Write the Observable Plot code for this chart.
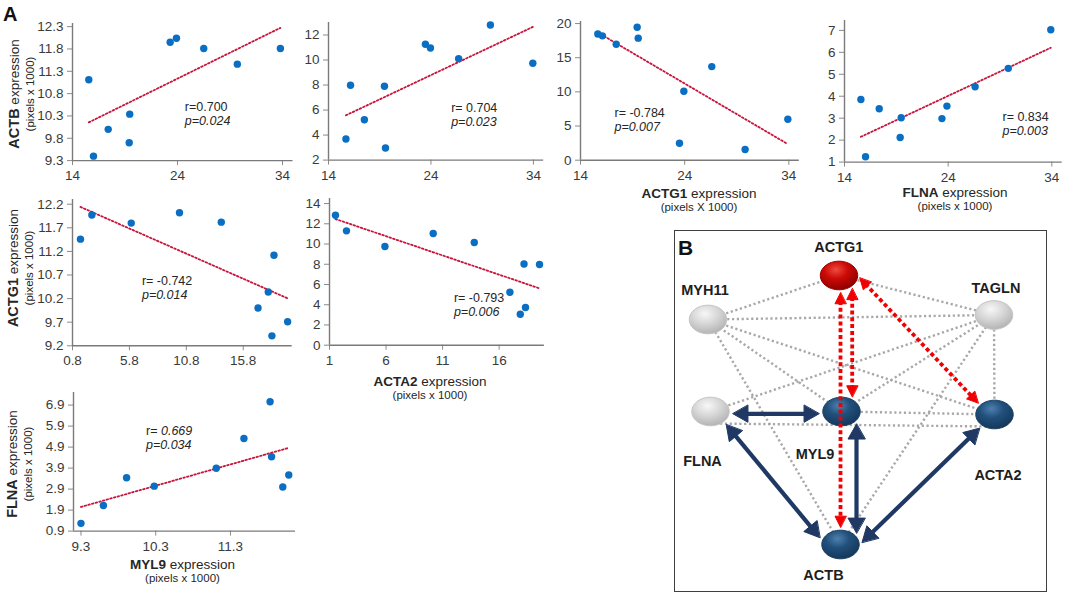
<!DOCTYPE html>
<html>
<head>
<meta charset="utf-8">
<script src="https://cdn.jsdelivr.net/npm/d3@7"></script>
<script src="https://cdn.jsdelivr.net/npm/@observablehq/plot@0.6"></script>
<style>
html,body{margin:0;padding:0;background:#fff;}
#fig{position:relative;width:1065px;height:594px;overflow:hidden;background:#fff;font-family:"Liberation Sans",Arial,Helvetica,sans-serif;color:#262626;}
#fig svg{overflow:visible;}
</style>
</head>
<body>
<div id="fig"></div>
<script>
// ---------------- data ----------------
const p1X = [15.55, 16.0, 17.4, 19.4, 19.45, 23.3, 23.9, 26.5, 29.7, 33.8];
const p1Y = [11.11, 9.40, 10.0, 9.70, 10.34, 11.95, 12.04, 11.81, 11.46, 11.81];
const p2X = [15.7, 16.15, 17.5, 19.46, 19.56, 23.46, 23.95, 26.7, 29.8, 33.94];
const p2Y = [3.68, 7.98, 5.22, 7.9, 2.96, 11.26, 10.96, 10.11, 12.8, 9.74];
const p3X = [15.66, 16.1, 17.43, 19.44, 19.54, 23.5, 23.92, 26.6, 29.8, 33.9];
const p3Y = [18.48, 18.2, 16.97, 19.46, 17.86, 2.49, 10.1, 13.7, 1.56, 6.0];
const p4X = [15.58, 16.03, 17.35, 19.37, 19.47, 23.4, 23.88, 26.6, 29.8, 33.9];
const p4Y = [3.85, 1.24, 3.43, 2.12, 3.02, 2.98, 3.55, 4.43, 5.27, 7.03];
const p5X = [1.5, 2.5, 5.96, 10.2, 13.87, 17.1, 18.0, 18.32, 18.5, 19.7];
const p5Y = [11.46, 11.97, 11.8, 12.02, 11.82, 10.0, 10.34, 9.41, 11.12, 9.71];
const p6X = [1.53, 2.5, 5.9, 10.17, 13.8, 16.95, 17.87, 18.2, 18.33, 19.57];
const p6Y = [12.84, 11.3, 9.75, 11.04, 10.15, 5.23, 3.06, 8.03, 3.72, 7.97];
const p7X = [9.3, 9.6, 9.91, 10.28, 11.11, 11.48, 11.83, 11.85, 12.0, 12.08];
const p7Y = [1.27, 2.12, 3.44, 3.04, 3.89, 5.31, 7.06, 4.44, 3.0, 3.57];

const rLabels = ["r=0.700", "r= 0.704", "r= -0.784", "r= 0.834", "r= -0.742", "r= -0.793", "r= "];
const rItalicPart = [null, null, null, null, null, null, "0.669"];
const pLabels = ["p=0.024", "p=0.023", "p=0.007", "p=0.003", "p=0.014", "p=0.006", "p=0.034"];

// tick labels
const row1XTicks = [14, 24, 34];
const p1YTicks = [9.3, 9.8, 10.3, 10.8, 11.3, 11.8, 12.3];
const p2YTicks = [2, 4, 6, 8, 10, 12];
const p3YTicks = [0, 5, 10, 15, 20];
const p4YTicks = [1, 2, 3, 4, 5, 6, 7];
const p5XTicks = [0.8, 5.8, 10.8, 15.8];
const p5YTicks = [9.2, 9.7, 10.2, 10.7, 11.2, 11.7, 12.2];
const p6XTicks = [1, 6, 11, 16];
const p6YTicks = [0, 2, 4, 6, 8, 10, 12, 14];
const p7XTicks = [9.3, 10.3, 11.3];
const p7YTicks = [0.9, 1.9, 2.9, 3.9, 4.9, 5.9, 6.9];

// network
const nodeNames = ["ACTG1", "MYH11", "TAGLN", "FLNA", "MYL9", "ACTA2", "ACTB"];
const nodeKinds = ["red", "gray", "gray", "gray", "blue", "blue", "blue"];
const grayEdges = [["MYH11","ACTG1"],["ACTG1","TAGLN"],["MYH11","TAGLN"],["MYH11","MYL9"],["MYH11","ACTA2"],["MYH11","ACTB"],
  ["TAGLN","FLNA"],["TAGLN","MYL9"],["TAGLN","ACTB"],["TAGLN","ACTA2"],["FLNA","ACTA2"],["MYL9","ACTA2"]];
const redEdges = [["ACTG1","ACTB"],["ACTG1","MYL9"],["ACTG1","ACTA2"]];
const blueEdges = [["FLNA","MYL9"],["FLNA","ACTB"],["MYL9","ACTB"],["ACTA2","ACTB"]];

// ---------------- layout ----------------
const FONT = '"Liberation Sans", Arial, Helvetica, sans-serif';
const fig = document.getElementById("fig");
const M = {l: 44, r: 10, t: 8, b: 28};

const panels = [
  {xs: p1X, ys: p1Y, xDomain: [14, 35], yDomain: [9.3, 12.37], xTicks: row1XTicks, yTicks: p1YTicks, xFmt: "d", yFmt: ".1f", ann: [24.7, 10.40], box: {x0: 72, x1: 292.5, top: 22.9, bottom: 160}},
  {xs: p2X, ys: p2Y, xDomain: [14, 35], yDomain: [2, 13], xTicks: row1XTicks, yTicks: p2YTicks, xFmt: "d", yFmt: "d", ann: [25.97, 5.85], box: {x0: 328.3, x1: 543.5, top: 21.7, bottom: 159.3}},
  {xs: p3X, ys: p3Y, xDomain: [14, 35], yDomain: [0, 20.3], xTicks: row1XTicks, yTicks: p3YTicks, xFmt: "d", yFmt: "d", ann: [17.26, 6.33], box: {x0: 580, x1: 798.8, top: 21.3, bottom: 160}},
  {xs: p4X, ys: p4Y, xDomain: [14, 35], yDomain: [1, 7.45], xTicks: row1XTicks, yTicks: p4YTicks, xFmt: "d", yFmt: "d", ann: [29.24, 2.87], box: {x0: 844.3, x1: 1062, top: 20.1, bottom: 161.7}},
  {xs: p5X, ys: p5Y, xDomain: [0.8, 20.1], yDomain: [9.2, 12.3], xTicks: p5XTicks, yTicks: p5YTicks, xFmt: ".1f", yFmt: ".1f", ann: [6.9, 10.49], box: {x0: 72.3, x1: 292, top: 198.7, bottom: 345}},
  {xs: p6X, ys: p6Y, xDomain: [1, 20], yDomain: [0, 14.5], xTicks: p6XTicks, yTicks: p6YTicks, xFmt: "d", yFmt: "d", ann: [12.0, 4.22], box: {x0: 329, x1: 543.9, top: 198.3, bottom: 345}},
  {xs: p7X, ys: p7Y, xDomain: [9.2, 12.17], yDomain: [0.9, 7.5], xTicks: p7XTicks, yTicks: p7YTicks, xFmt: ".1f", yFmt: ".1f", ann: [10.17, 5.47], box: {x0: 73, x1: 295, top: 392.4, bottom: 531}}
];

panels.forEach((p, i) => {
  const data = p.xs.map((x, j) => ({x, y: p.ys[j]}));
  const w = p.box.x1 - p.box.x0 + M.l + M.r;
  const h = p.box.bottom - p.box.top + M.t + M.b;
  const marks = [
    Plot.axisX({ticks: p.xTicks, tickFormat: d3.format(p.xFmt), tickSize: 5, tickPadding: 5, stroke: "#8a8a8a", fill: "#3a3a3a", fontSize: 13.5, label: null}),
    Plot.axisY({ticks: p.yTicks, tickFormat: d3.format(p.yFmt), tickSize: 5, tickPadding: 4, stroke: "#8a8a8a", fill: "#3a3a3a", fontSize: 13.5, label: null}),
    Plot.ruleY([p.yDomain[0]], {stroke: "#7a7a7a", strokeWidth: 1.4}),
    Plot.ruleX([p.xDomain[0]], {stroke: "#7a7a7a", strokeWidth: 1.4}),
    Plot.linearRegressionY(data, {x: "x", y: "y", ci: 0, stroke: "#c8143c", strokeWidth: 1.8, strokeDasharray: "1.6,2.2"}),
    Plot.dot(data, {x: "x", y: "y", r: 3.7, fill: "#0a6fc2"}),
    Plot.text([p.ann], {x: d => d[0], y: d => d[1], text: () => rLabels[i], textAnchor: "start", lineAnchor: "bottom", fontSize: 12.5, fill: "#262626"}),
    Plot.text([p.ann], {x: d => d[0], y: d => d[1], text: () => pLabels[i], textAnchor: "start", lineAnchor: "bottom", dy: 14, fontSize: 12.5, fontStyle: "italic", fill: "#262626"})
  ];
  if (rItalicPart[i]) {
    marks.push(Plot.text([p.ann], {x: d => d[0], y: d => d[1], text: () => rItalicPart[i], textAnchor: "start", lineAnchor: "bottom", dx: 15, fontSize: 12.5, fontStyle: "italic", fill: "#262626"}));
  }
  const chart = Plot.plot({
    width: w, height: h,
    marginLeft: M.l, marginRight: M.r, marginTop: M.t, marginBottom: M.b,
    style: {fontFamily: FONT, background: "transparent", overflow: "visible"},
    x: {domain: p.xDomain},
    y: {domain: p.yDomain},
    marks
  });
  chart.style.position = "absolute";
  chart.style.left = (p.box.x0 - M.l) + "px";
  chart.style.top = (p.box.top - M.t) + "px";
  chart.style.maxWidth = "none";
  fig.appendChild(chart);
});

// ---------------- axis titles (HTML text) ----------------
function yTitle(gene, cx, cy) {
  const d = document.createElement("div");
  d.style.cssText = `position:absolute;left:${cx}px;top:${cy}px;transform:translate(-50%,-50%) rotate(-90deg);text-align:center;white-space:nowrap;font-family:${FONT};color:#262626;`;
  d.innerHTML = `<div style="font-size:13.5px;line-height:16px"><b style="font-size:14.5px">${gene}</b> expression</div><div style="font-size:11.5px;line-height:14px">(pixels x 1000)</div>`;
  fig.appendChild(d);
}
function xTitle(gene, cx, top, unit) {
  const d = document.createElement("div");
  d.style.cssText = `position:absolute;left:${cx}px;top:${top}px;transform:translateX(-50%);text-align:center;white-space:nowrap;font-family:${FONT};color:#262626;`;
  d.innerHTML = `<div style="font-size:13.5px;line-height:14px"><b>${gene}</b> expression</div><div style="font-size:11.5px;line-height:12px">${unit}</div>`;
  fig.appendChild(d);
}
yTitle("ACTB", 20.5, 94);
yTitle("ACTG1", 20, 267.5);
yTitle("FLNA", 19, 463.7);
xTitle("ACTG1", 699, 186.8, "(pixels X 1000)");
xTitle("FLNA", 955, 185.8, "(pixels x 1000)");
xTitle("ACTA2", 430, 374.8, "(pixels x 1000)");
xTitle("MYL9", 182.5, 557.5, "(pixels x 1000)");

function letter(t, left, top, size) {
  const d = document.createElement("div");
  d.style.cssText = `position:absolute;left:${left}px;top:${top}px;font-family:${FONT};font-weight:bold;font-size:${size}px;line-height:${size}px;color:#111;`;
  d.textContent = t;
  fig.appendChild(d);
}
letter("A", 3, 4.4, 20);

// ---------------- panel B: network ----------------
const BOX = {left: 674, top: 230, w: 373, h: 362};
const border = document.createElement("div");
border.style.cssText = `position:absolute;left:${BOX.left}px;top:${BOX.top}px;width:${BOX.w}px;height:${BOX.h}px;border:1.6px solid #3f3f3f;box-sizing:border-box;`;
fig.appendChild(border);

const nodePos = {ACTG1: [164.5, 45], MYH11: [33.5, 89], TAGLN: [319.5, 84.5], FLNA: [36, 181], MYL9: [167, 181], ACTA2: [320, 184], ACTB: [166, 314]};
const labelPos = {ACTG1: [164.3, 21.5], MYH11: [30.5, 64], TAGLN: [321.5, 62.5], FLNA: [28, 235.5], MYL9: [140.5, 228.5], ACTA2: [323.5, 249], ACTB: [149, 349]};
const anchorOff = {
  "ACTG1-ACTB": [[1.5, 0], [0, 0]], "ACTG1-MYL9": [[13.2, 0], [10.7, 0]], "ACTG1-ACTA2": [[7.8, -11.2], [-2, 3.8]],
  "FLNA-MYL9": [[0, 2.3], [0, 2.3]], "FLNA-ACTB": [[5.4, 0.7], [-8.7, 7.6]], "MYL9-ACTB": [[15, 0], [16, 0]],
  "ACTA2-ACTB": [[-3.2, 2.2], [10.9, 8.2]], "FLNA-ACTA2": [[0, 12], [0, 12]]
};
const RX = 18.7, RY = 14.3;

function roots(P0, d, C) {
  const ox = P0[0] - C[0], oy = P0[1] - C[1];
  const a = (d[0] / RX) ** 2 + (d[1] / RY) ** 2;
  const b = 2 * (ox * d[0] / RX ** 2 + oy * d[1] / RY ** 2);
  const c = (ox / RX) ** 2 + (oy / RY) ** 2 - 1;
  const s = Math.sqrt(Math.max(0, b * b - 4 * a * c));
  return [(-b - s) / (2 * a), (-b + s) / (2 * a)];
}
function edgeGeom([a, b], gap, headLen, headW, key) {
  const off = anchorOff[a + "-" + b] || [[0, 0], [0, 0]];
  const A = nodePos[a], B = nodePos[b];
  const P0 = [A[0] + off[0][0], A[1] + off[0][1]];
  const P1 = [B[0] + off[1][0], B[1] + off[1][1]];
  const d = [P1[0] - P0[0], P1[1] - P0[1]];
  const len = Math.hypot(d[0], d[1]);
  const u = [d[0] / len, d[1] / len], n = [-u[1], u[0]];
  const t0 = roots(P0, d, A)[1] + gap / len;
  const t1 = roots(P0, d, B)[0] - gap / len;
  const T0 = [P0[0] + t0 * d[0], P0[1] + t0 * d[1]];
  const T1 = [P0[0] + t1 * d[0], P0[1] + t1 * d[1]];
  const k = headLen * 0.75;
  const seg = {x1: T0[0] + k * u[0], y1: T0[1] + k * u[1], x2: T1[0] - k * u[0], y2: T1[1] - k * u[1]};
  const heads = [];
  [[T1, 1], [T0, -1]].forEach(([T, s], j) => {
    const bc = [T[0] - s * headLen * u[0], T[1] - s * headLen * u[1]];
    const id = key + "-" + a + b + j;
    heads.push({id, x: T[0], y: T[1]});
    heads.push({id, x: bc[0] + headW * n[0], y: bc[1] + headW * n[1]});
    heads.push({id, x: bc[0] - headW * n[0], y: bc[1] - headW * n[1]});
  });
  return {seg, heads};
}
const graySegs = grayEdges.map(([a, b]) => {
  const off = anchorOff[a + "-" + b] || [[0, 0], [0, 0]];
  return {x1: nodePos[a][0] + off[0][0], y1: nodePos[a][1] + off[0][1], x2: nodePos[b][0] + off[1][0], y2: nodePos[b][1] + off[1][1]};
});
const redG = redEdges.map(e => edgeGeom(e, 3, 11, 5.5, "r"));
const blueG = blueEdges.map(e => edgeGeom(e, 4, 15, 8.5, "b"));

const ellipsePts = nodeNames.flatMap((name, i) => d3.range(60).map(k => {
  const th = 2 * Math.PI * k / 60;
  return {id: name, kind: nodeKinds[i], x: nodePos[name][0] + RX * Math.cos(th), y: nodePos[name][1] + RY * Math.sin(th)};
}));
const labels = nodeNames.map(name => ({name, x: labelPos[name][0], y: labelPos[name][1]}));

const defsMark = () => {
  const g = d3.create("svg:g");
  const defs = g.append("defs");
  const grad = (id, stops) => {
    const r = defs.append("radialGradient").attr("id", id).attr("cx", "42%").attr("cy", "30%").attr("r", "70%");
    stops.forEach(([o, c]) => r.append("stop").attr("offset", o).attr("stop-color", c));
  };
  grad("gRed", [["0%", "#ee4a40"], ["45%", "#cc0a06"], ["100%", "#8e0000"]]);
  grad("gBlue", [["0%", "#4f80ad"], ["45%", "#21507c"], ["100%", "#15385a"]]);
  grad("gGray", [["0%", "#f7f7f7"], ["50%", "#d7d7d7"], ["100%", "#b4b4b4"]]);
  return g.node();
};

const net = Plot.plot({
  width: BOX.w, height: BOX.h, margin: 0,
  style: {fontFamily: FONT, background: "transparent", overflow: "visible"},
  x: {domain: [0, BOX.w], range: [0, BOX.w], axis: null},
  y: {domain: [0, BOX.h], range: [0, BOX.h], axis: null},
  marks: [
    defsMark,
    Plot.link(graySegs, {x1: "x1", y1: "y1", x2: "x2", y2: "y2", stroke: "#a8a8a8", strokeWidth: 2.4, strokeDasharray: "2.2,2.6"}),
    Plot.line(ellipsePts.filter(d => d.kind === "gray"), {x: "x", y: "y", z: "id", curve: "linear-closed", fill: "url(#gGray)", stroke: "#c4c4c4", strokeWidth: 1}),
    Plot.line(ellipsePts.filter(d => d.kind === "blue"), {x: "x", y: "y", z: "id", curve: "linear-closed", fill: "url(#gBlue)", stroke: "#173d63", strokeWidth: 1}),
    Plot.line(ellipsePts.filter(d => d.kind === "red"), {x: "x", y: "y", z: "id", curve: "linear-closed", fill: "url(#gRed)", stroke: "#9a0000", strokeWidth: 1}),
    Plot.link(blueG.map(g => g.seg), {x1: "x1", y1: "y1", x2: "x2", y2: "y2", stroke: "#1f3864", strokeWidth: 4.2}),
    Plot.line(blueG.flatMap(g => g.heads), {x: "x", y: "y", z: "id", curve: "linear-closed", fill: "#1f3864", stroke: "#1f3864", strokeWidth: 1}),
    Plot.link(redG.map(g => g.seg), {x1: "x1", y1: "y1", x2: "x2", y2: "y2", stroke: "#f00000", strokeWidth: 3.8, strokeDasharray: "4,2.8"}),
    Plot.line(redG.flatMap(g => g.heads), {x: "x", y: "y", z: "id", curve: "linear-closed", fill: "#f00000", stroke: "#f00000", strokeWidth: 1}),
    Plot.text(labels, {x: "x", y: "y", text: "name", textAnchor: "middle", lineAnchor: "bottom", fontWeight: "bold", fontSize: 14.5, fill: "#1e1e1e"})
  ]
});
net.style.position = "absolute";
net.style.left = BOX.left + "px";
net.style.top = BOX.top + "px";
net.style.maxWidth = "none";
fig.appendChild(net);
letter("B", 678, 237.2, 21);
</script>
</body>
</html>
